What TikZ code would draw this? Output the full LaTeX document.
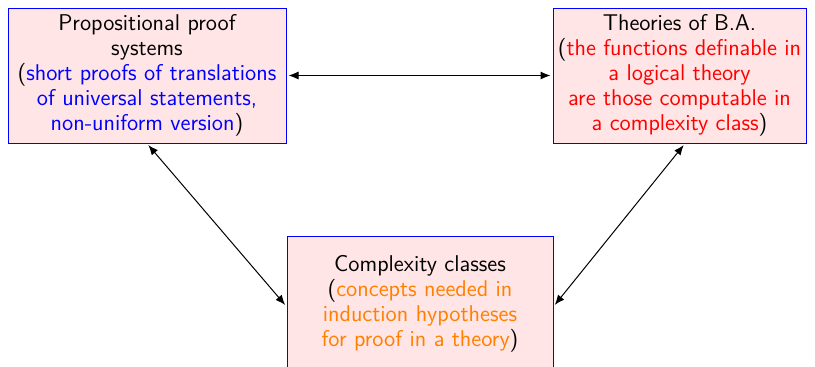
\documentclass[tikz,border=0pt]{standalone}
\usetikzlibrary{arrows.meta,calc}
\begin{document}
\begin{tikzpicture}[x=0.5pt,y=-0.5pt,
  box/.style={draw=blue, line width=0.5pt, fill=red!10, align=center, inner sep=0pt,
    minimum height=67.5pt, font=\sffamily\fontsize{11.4pt}{12.5pt}\selectfont},
  link/.style={{Latex[length=5pt,width=4pt]}-{Latex[length=5pt,width=4pt]}, line width=0.5pt, shorten <=1pt, shorten >=1pt}]
\useasboundingbox (0,0) rectangle (815,366);
\node[box, minimum width=139pt] (pps) at (147,75.5)
  {Propositional proof\\systems\\(\textcolor{blue}{short proofs of translations}\\\textcolor{blue}{of universal statements,}\\\textcolor{blue}{non-uniform version})};
\node[box, minimum width=126.5pt] (tba) at (679.5,75.5)
  {Theories of B.A.\\(\textcolor{red}{the functions definable in}\\\textcolor{red}{a logical theory}\\\textcolor{red}{are those computable in}\\\textcolor{red}{a complexity class})};
\node[box, minimum width=133pt] (cc) at (420,303.5)
  {Complexity classes\\(\textcolor{orange}{concepts needed in}\\\textcolor{orange}{induction hypotheses}\\\textcolor{orange}{for proof in a theory})};
\draw[link] (pps.east) -- (tba.west);
\draw[link] (pps.south) -- ($(cc.west)+(0,-1.5pt)$);
\draw[link] ($(tba.south)+(2.75pt,0)$) -- ($(cc.east)+(0,-1.5pt)$);
\end{tikzpicture}
\end{document}
